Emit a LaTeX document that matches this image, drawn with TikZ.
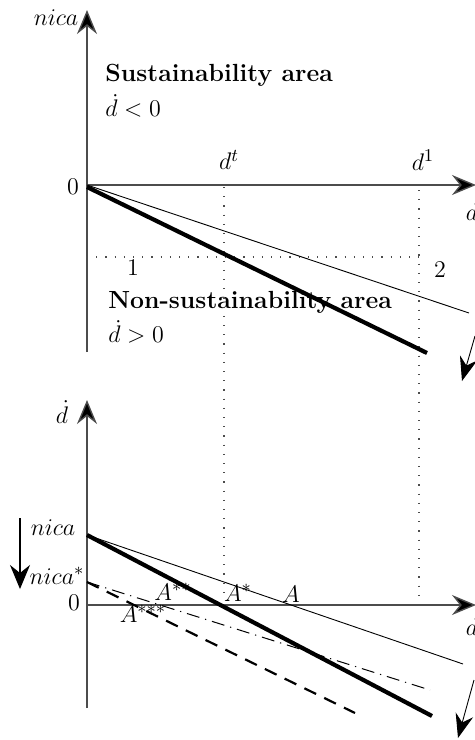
\documentclass[tikz,border=0pt]{standalone}
\usetikzlibrary{arrows.meta}
\begin{document}
\begin{tikzpicture}[x=0.5pt,y=-0.5pt,
  axis/.style={line width=0.7pt,draw=black!70,-{Stealth[length=12pt,width=10pt,inset=4pt,fill=black]}},
  thinl/.style={line width=0.45pt},
  thickl/.style={line width=2.1pt},
  dotl/.style={line width=0.6pt,dash pattern=on 0.6pt off 4pt,draw=black!70},
  shiftarrow/.style={line width=0.45pt,-{Stealth[length=12pt,width=9pt,inset=4pt]}},
  lbl/.style={font=\fontsize{12.4}{14}\selectfont,inner sep=1pt},
  area/.style={font=\fontsize{12.4}{14}\selectfont\bfseries,anchor=west,inner sep=0pt}]
\useasboundingbox (0,0) rectangle (475,740);
% ---------- top panel ----------
\coordinate (O1) at (87,185);
\coordinate (Y1b) at (87,352);
\coordinate (Y1t) at (87,10);
\coordinate (X1r) at (476,185);
\draw[axis] (Y1b) -- (Y1t);
\draw[axis] (O1) -- (X1r);
\node[lbl] (nicaT) at (56,18) {$nica$};
\node[lbl] (zeroT) at (73,187) {$0$};
\node[lbl] (dT) at (472,212) {$d$};
\node[lbl] (dt) at (229,160) {$d^t$};
\node[lbl] (d1) at (423,160) {$d^1$};
\node[area] (sus) at (105,75) {Sustainability area};
\node[area] (susd) at (105,106) {$\dot d<0$};
\node[area] (nsus) at (108,302) {Non-sustainability area};
\node[area] (nsusd) at (108,332) {$\dot d>0$};
\node[lbl] (one) at (133,268) {$1$};
\node[lbl] (two) at (440,270) {$2$};
% dotted guides
\coordinate (Dt1) at (224,187);
\coordinate (Dt2) at (224,600);
\coordinate (D11) at (419,190);
\coordinate (D12) at (419,597);
\coordinate (H1) at (87,257);
\coordinate (H2) at (419,257);
\draw[dotl] (Dt1) -- (Dt2);
\draw[dotl] (D11) -- (D12);
\draw[dotl] (H1) -- (H2);
% lines
\coordinate (T1e) at (469,313);
\coordinate (T2s) at (87,187);
\coordinate (T2e) at (427,353);
\draw[thinl] (O1) -- (T1e);
\draw[thickl] (T2s) -- (T2e);
\coordinate (S1a) at (475,336);
\coordinate (S1b) at (462,381);
\draw[shiftarrow] (S1a) -- (S1b);
% ---------- bottom panel ----------
\coordinate (O2) at (87,605);
\coordinate (Y2b) at (87,708);
\coordinate (Y2t) at (87,400);
\coordinate (X2r) at (476,605);
\draw[axis] (Y2b) -- (Y2t);
\draw[axis] (O2) -- (X2r);
\node[lbl] (ddot) at (62,412) {$\dot d$};
\node[lbl] (zeroB) at (74,603) {$0$};
\node[lbl] (dB) at (472,627) {$d$};
\node[lbl] (nicaB) at (53,528) {$nica$};
\node[lbl] (nicaS) at (57,576) {$nica^{*}$};
\coordinate (Na) at (20,518);
\coordinate (Nb) at (20,589);
\draw[line width=0.6pt,-{Stealth[length=12pt,width=10pt,inset=4pt]}] (Na) -- (Nb);
\coordinate (P) at (87,535);
\coordinate (Pthin) at (463,664);
\coordinate (Pthick) at (432,716);
\coordinate (Q) at (87,582);
\coordinate (Qdd) at (430,690);
\coordinate (Qd) at (355,713);
\draw[thinl] (P) -- (Pthin);
\draw[thickl] (P) -- (Pthick);
\draw[line width=0.5pt,dash pattern=on 6.5pt off 3pt on 0.6pt off 3pt] (Q) -- (Qdd);
\draw[line width=1.1pt,dash pattern=on 6.5pt off 4.5pt] (Q) -- (Qd);
\node[lbl] (A2) at (173,592) {$A^{**}$};
\node[lbl] (A3) at (143,614) {$A^{***}$};
\node[lbl] (A1) at (238,593) {$A^{*}$};
\node[lbl] (A0) at (291,594) {$A$};
\coordinate (S2a) at (474,680);
\coordinate (S2b) at (458,738);
\draw[shiftarrow] (S2a) -- (S2b);
\end{tikzpicture}
\end{document}
